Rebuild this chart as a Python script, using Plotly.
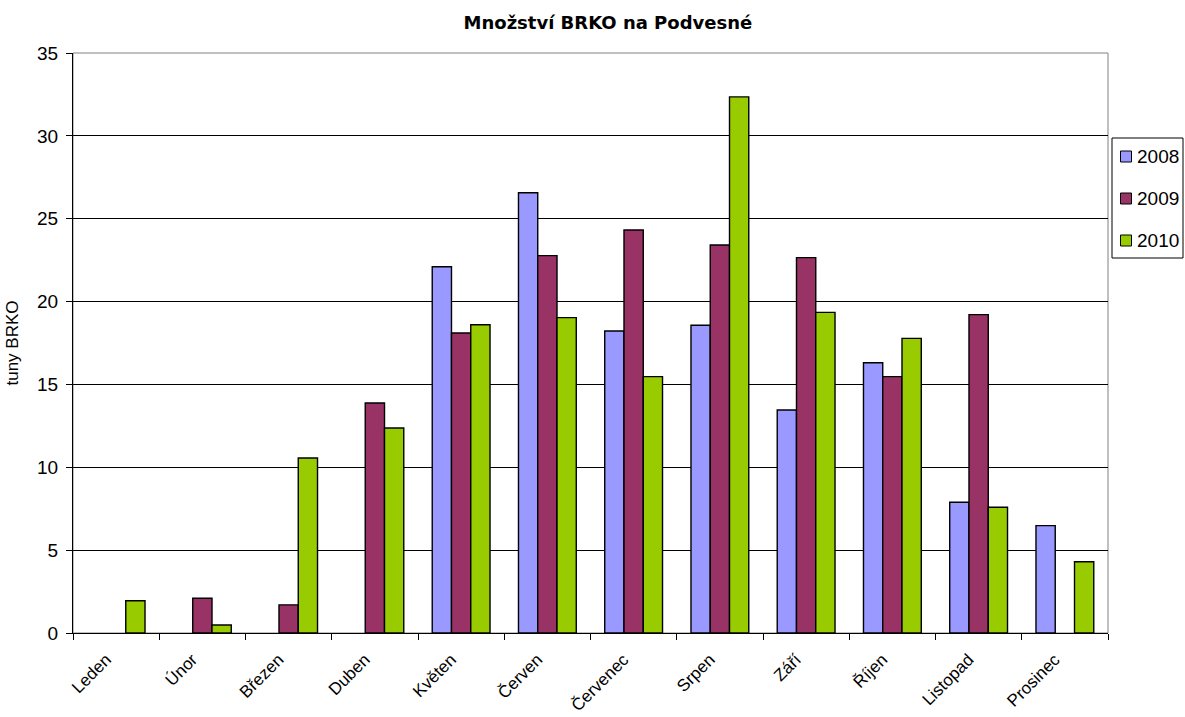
import plotly.graph_objects as go

months = ["Leden", "Únor", "Březen", "Duben", "Květen", "Červen",
          "Červenec", "Srpen", "Září", "Říjen", "Listopad", "Prosinec"]
y2008 = [None, None, None, None, 22.1, 26.57, 18.22, 18.57, 13.46, 16.31, 7.89, 6.48]
y2009 = [None, 2.1, 1.7, 13.88, 18.1, 22.77, 24.32, 23.41, 22.65, 15.47, 19.21, None]
y2010 = [1.95, 0.48, 10.56, 12.37, 18.6, 19.03, 15.47, 32.35, 19.35, 17.78, 7.59, 4.30]
series_names = ["2008", "2009", "2010"]
series_values = [y2008, y2009, y2010]
series_colors = ["#9999FF", "#993366", "#99CC00"]

W, H = 1185, 717
ML, MR, MT, MB = 73, 77, 53, 84
PW, PH = W - ML - MR, H - MT - MB


def px_x(cx):
    return (cx - ML) / PW


def px_y(cy):
    return (H - MB - cy) / PH


fig = go.Figure()
for name, vals, col in zip(series_names, series_values, series_colors):
    fig.add_trace(go.Bar(
        x=months, y=vals, name=name, showlegend=False,
        marker=dict(color=col, line=dict(color="black", width=1.4)),
    ))

fig.update_layout(
    width=W, height=H,
    paper_bgcolor="white", plot_bgcolor="white",
    margin=dict(l=ML, r=MR, t=MT, b=MB, autoexpand=False),
    barmode="group", bargap=0.33, bargroupgap=0,
    font=dict(family="Liberation Sans, Arial, sans-serif", color="black", size=16),
    title=dict(text="<b>Množství BRKO na Podvesné</b>", x=0.513, xanchor="center",
               y=0.969, yanchor="middle",
               font=dict(family="DejaVu Sans, sans-serif", size=18, color="black")),
    showlegend=False,
    xaxis=dict(
        type="category", showline=True, linecolor="black", linewidth=1,
        ticks="outside", ticklen=6, tickcolor="black", tickson="boundaries",
        tickangle=-45, tickfont=dict(size=17), ticklabelshift=-10, ticklabelstandoff=9,
        showgrid=False, automargin=False,
    ),
    yaxis=dict(
        range=[0, 35], dtick=5, showline=True, linecolor="black", linewidth=1,
        ticks="outside", ticklen=6, tickcolor="black", tickfont=dict(size=19),
        showgrid=True, gridcolor="black", gridwidth=1, zeroline=False,
        automargin=False, ticklabelstandoff=4,
        title=dict(text="tuny BRKO", font=dict(size=17), standoff=14),
    ),
)

fig.add_shape(type="rect", xref="paper", yref="paper", x0=0, x1=1, y0=0, y1=1,
              line=dict(color="#808080", width=1), layer="below")

# legend drawn as a framed box with colour keys
fig.add_shape(type="rect", xref="paper", yref="paper",
              x0=px_x(1112), x1=px_x(1183), y0=px_y(258), y1=px_y(138),
              line=dict(color="black", width=1), fillcolor="white")
for i, (name, col) in enumerate(zip(series_names, series_colors)):
    cy = 156.5 + 42 * i
    fig.add_shape(type="rect", xref="paper", yref="paper",
                  x0=px_x(1120.5), x1=px_x(1131.5), y0=px_y(cy + 5.5), y1=px_y(cy - 5.5),
                  line=dict(color="black", width=1), fillcolor=col)
    fig.add_annotation(xref="paper", yref="paper", x=px_x(1135), y=px_y(cy),
                       xanchor="left", yanchor="middle", text=name, showarrow=False,
                       font=dict(size=19, color="black"))

fig.write_html("out.html", config={"displayModeBar": False},
               post_script="document.body.style.margin='0';document.body.style.overflow='hidden';")
